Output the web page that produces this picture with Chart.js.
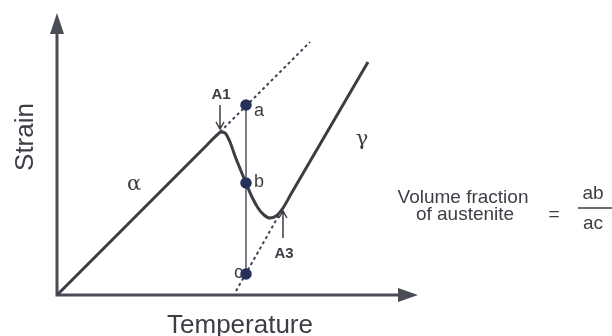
<!DOCTYPE html>
<html>
<head>
<meta charset="utf-8">
<script src="https://cdn.jsdelivr.net/npm/chart.js@4.4.1/dist/chart.umd.min.js"></script>
<style>
  html, body { margin: 0; background: #fff; }
  .wrap { width: 612px; height: 336px; }
</style>
</head>
<body>
<div class="wrap"><canvas class="dilato"></canvas></div>
<script>
// dilatometric curve (arbitrary units)
const curveTemp   = [0, 150, 160, 164, 168, 173, 178, 184, 189, 195, 201, 207, 213, 219, 226, 234, 311];
const curveStrain = [0, 150, 160, 163, 162, 153, 139, 124, 112, 98, 87, 80, 77, 79, 87, 101, 233];

// extrapolated alpha and gamma lines
const alphaExtTemp = [163, 253];
const alphaExtStrain = [163, 253];
const gammaExtTemp = [179, 226];
const gammaExtStrain = [4, 87];

// lever rule points a, b, c
const pointNames = ["a", "b", "c"];
const pointTemp = [189, 189, 189];
const pointStrain = [190, 112, 21];

const xMax = 361;
const yMax = 282;

const toXY = (xs, ys) => xs.map((x, i) => ({ x: x, y: ys[i] }));

const ink = "#3b3e45";
const dotColor = "#28305a";

(() => {
  const ctx = document.querySelector(".dilato");

  const annotate = {
    id: "annotate",
    beforeDatasetsDraw(chart) {
      const c = chart.ctx;
      const { left, bottom } = chart.chartArea;
      const xs = chart.scales.x;
      const ys = chart.scales.y;
      const right = xs.getPixelForValue(xMax);
      const top = ys.getPixelForValue(yMax);
      c.save();
      c.strokeStyle = "#4a4d55";
      c.fillStyle = "#4a4d55";
      c.lineWidth = 3;
      c.beginPath();
      c.moveTo(left, top + 18);
      c.lineTo(left, bottom);
      c.lineTo(right - 16, bottom);
      c.stroke();
      // arrow heads
      c.beginPath();
      c.moveTo(left, top);
      c.lineTo(left - 7, top + 21);
      c.lineTo(left + 7, top + 21);
      c.closePath();
      c.fill();
      c.beginPath();
      c.moveTo(right, bottom);
      c.lineTo(right - 20, bottom - 7);
      c.lineTo(right - 20, bottom + 7);
      c.closePath();
      c.fill();
      c.restore();
    },
    afterDatasetsDraw(chart) {
      const c = chart.ctx;
      const xs = chart.scales.x;
      const ys = chart.scales.y;
      const px = (v) => xs.getPixelForValue(v);
      const py = (v) => ys.getPixelForValue(v);
      c.save();
      c.fillStyle = ink;
      c.strokeStyle = ink;

      // axis titles
      c.font = "26px 'Liberation Sans', Arial, sans-serif";
      c.textAlign = "center";
      c.textBaseline = "alphabetic";
      c.fillText("Temperature", 240, 333);
      c.save();
      c.translate(33, 137);
      c.rotate(-Math.PI / 2);
      c.fillText("Strain", 0, 0);
      c.restore();

      // phase labels
      c.font = "21px 'DejaVu Serif', serif";
      c.fillText("α", px(77), py(105));
      c.fillText("γ", px(305), py(150));

      // a, b, c labels
      c.font = "18px 'Liberation Sans', Arial, sans-serif";
      c.textAlign = "left";
      c.textBaseline = "middle";
      c.fillText(pointNames[0], px(pointTemp[0]) + 8, py(pointStrain[0]) + 6);
      c.fillText(pointNames[1], px(pointTemp[1]) + 8, py(pointStrain[1]) - 1);
      c.textAlign = "right";
      c.fillText(pointNames[2], px(pointTemp[2]) - 3, py(pointStrain[2]) - 1);

      // A1 / A3 arrows
      c.font = "bold 15px 'Liberation Sans', Arial, sans-serif";
      c.textAlign = "center";
      c.textBaseline = "alphabetic";
      const a1x = px(163), a1y = py(163);
      c.fillText("A1", a1x + 1, a1y - 33);
      c.lineWidth = 1.5;
      c.beginPath();
      c.moveTo(a1x, a1y - 27);
      c.lineTo(a1x, a1y - 3);
      c.moveTo(a1x - 4, a1y - 10);
      c.lineTo(a1x, a1y - 3);
      c.lineTo(a1x + 4, a1y - 10);
      c.stroke();
      const a3x = px(226), a3y = py(87);
      c.fillText("A3", a3x + 1, a3y + 50);
      c.beginPath();
      c.moveTo(a3x, a3y + 30);
      c.lineTo(a3x, a3y + 3);
      c.moveTo(a3x - 4, a3y + 10);
      c.lineTo(a3x, a3y + 3);
      c.lineTo(a3x + 4, a3y + 10);
      c.stroke();

      // volume fraction formula
      c.font = "19px 'Liberation Sans', Arial, sans-serif";
      c.textAlign = "center";
      c.fillText("Volume fraction", 463, 203);
      c.fillText("of austenite", 465, 220);
      c.fillText("=", 554, 220);
      c.fillText("ab", 593, 199);
      c.fillText("ac", 593, 229);
      c.lineWidth = 1.5;
      c.beginPath();
      c.moveTo(578, 208);
      c.lineTo(612, 208);
      c.stroke();
      c.restore();
    },
  };

  const config = {
    type: "scatter",
    data: {
      datasets: [
        {
          label: "curve",
          data: toXY(curveTemp, curveStrain),
          showLine: true,
          borderColor: ink,
          borderWidth: 3,
          cubicInterpolationMode: "monotone",
          pointRadius: 0,
          order: 2,
        },
        {
          label: "alpha ext",
          data: toXY(alphaExtTemp, alphaExtStrain),
          showLine: true,
          borderColor: "#3c4258",
          borderWidth: 2,
          borderDash: [3, 3],
          pointRadius: 0,
          order: 3,
        },
        {
          label: "gamma ext",
          data: toXY(gammaExtTemp, gammaExtStrain),
          showLine: true,
          borderColor: "#3c4258",
          borderWidth: 2,
          borderDash: [3, 3],
          pointRadius: 0,
          order: 3,
        },
        {
          label: "lever",
          data: toXY(pointTemp, pointStrain),
          showLine: true,
          borderColor: "#50545c",
          borderWidth: 1.5,
          pointRadius: 5,
          pointBackgroundColor: dotColor,
          pointBorderColor: dotColor,
          order: 1,
        },
      ],
    },
    options: {
      responsive: true,
      maintainAspectRatio: false,
      animation: false,
      layout: { padding: { left: 57, right: 194, top: 13, bottom: 41 } },
      plugins: { legend: { display: false }, tooltip: { enabled: false } },
      scales: {
        x: { type: "linear", min: 0, max: xMax, display: false },
        y: { type: "linear", min: 0, max: yMax, display: false },
      },
    },
    plugins: [annotate],
  };
  new Chart(ctx, config);
})();
</script>
</body>
</html>
